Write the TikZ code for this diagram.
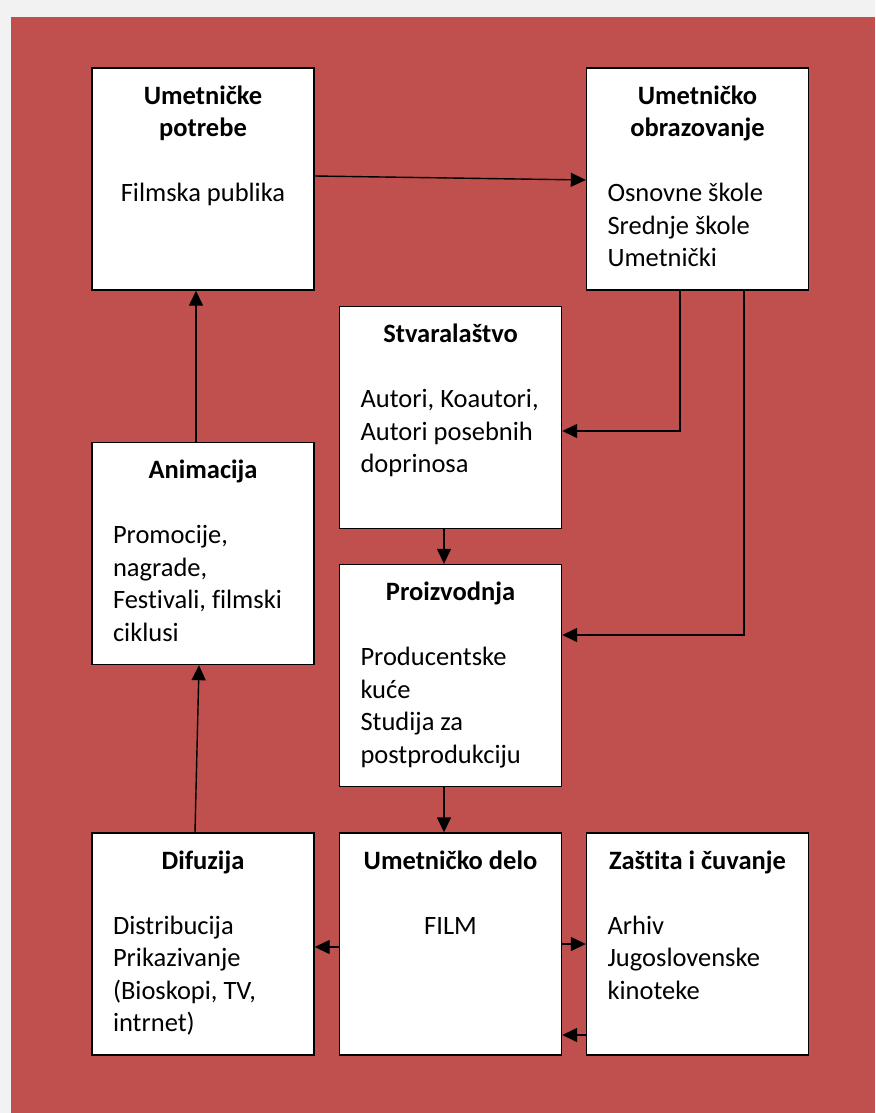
\documentclass[tikz,border=0pt]{standalone}
\usepackage{fontspec}
\setmainfont{Carlito}[Ligatures=NoCommon]
\usetikzlibrary{arrows.meta}

\definecolor{pozadina}{HTML}{F2F2F2}
\definecolor{crvena}{HTML}{C0504D}

% box content: bold centred title, blank line, body
\newcommand{\kutija}[2]{%
  \parbox[c][222pt][t]{200pt}{%
    \fontsize{26.5}{32.5}\selectfont
    {\centering\bfseries\rule{0pt}{36pt}#1\par}
    \vspace{32.5pt}
    {\raggedright\leftskip=10pt #2\par}}}

\tikzset{
  blok/.style={draw, fill=white, line width=1.4pt, inner xsep=11pt, inner ysep=0pt,
    minimum width=222pt, minimum height=222pt},
  strelica/.style={line width=1.4pt, -{Triangle[length=15pt,width=14pt]}}
}

\begin{document}
\begin{tikzpicture}[x=1pt, y=-1pt]

    % background
    \fill[pozadina] (0,0) rectangle (875,1113);
    \fill[crvena] (11,17) rectangle (875,1113);
    \useasboundingbox (0,0) rectangle (875,1113);

    % Boxes
    \node[blok] (potrebe) at (203,179)
        {\kutija{Umetničke\\potrebe}{\centering Filmska publika}};
    \node[blok] (obrazovanje) at (697.5,179)
        {\kutija{Umetničko\\obrazovanje}{Osnovne škole\\Srednje škole\\Umetnički}};
    \node[blok] (stvaralastvo) at (450.5,417.5)
        {\kutija{Stvaralaštvo}{Autori, Koautori,\\Autori posebnih\\doprinosa}};
    \node[blok] (animacija) at (203,553.5)
        {\kutija{Animacija}{Promocije,\\nagrade,\\Festivali, filmski\\ciklusi}};
    \node[blok] (proizvodnja) at (450.5,675.5)
        {\kutija{Proizvodnja}{Producentske\\kuće\\Studija za\\postprodukciju}};
    \node[blok] (difuzija) at (203,944)
        {\kutija{Difuzija}{Distribucija\\Prikazivanje\\(Bioskopi, TV,\\intrnet)}};
    \node[blok] (delo) at (450.5,944)
        {\kutija{Umetničko delo}{\centering FILM}};
    \node[blok] (zastita) at (697.5,944)
        {\kutija{Zaštita i čuvanje}{Arhiv\\Jugoslovenske\\kinoteke}};

    % Connectors
    \draw[strelica] ([yshift=3pt]potrebe.east) -- ([yshift=-1pt]obrazovanje.west);
    \draw[strelica] ([xshift=-17.5pt]obrazovanje.south) |- ([yshift=-13.5pt]stvaralastvo.east);
    \draw[strelica] ([xshift=46.5pt]obrazovanje.south) |- ([yshift=40.5pt]proizvodnja.east);
    \draw[strelica] ([xshift=-6.5pt]stvaralastvo.south) -- ([xshift=-6.5pt]proizvodnja.north);
    \draw[strelica] ([xshift=-6.5pt]proizvodnja.south) -- ([xshift=-6.5pt]delo.north);
    \draw[strelica] ([yshift=-3pt]delo.west) -- ([yshift=-3pt]difuzija.east);
    \draw[strelica] (delo.east) -- (zastita.west);
    \draw[strelica] ([yshift=-91pt]zastita.west) -- ([yshift=-91pt]delo.east);
    \draw[strelica] ([xshift=-8pt]difuzija.north) -- ([xshift=-4pt]animacija.south);
    \draw[strelica] ([xshift=-7pt]animacija.north) -- ([xshift=-7pt]potrebe.south);

\end{tikzpicture}
\end{document}
